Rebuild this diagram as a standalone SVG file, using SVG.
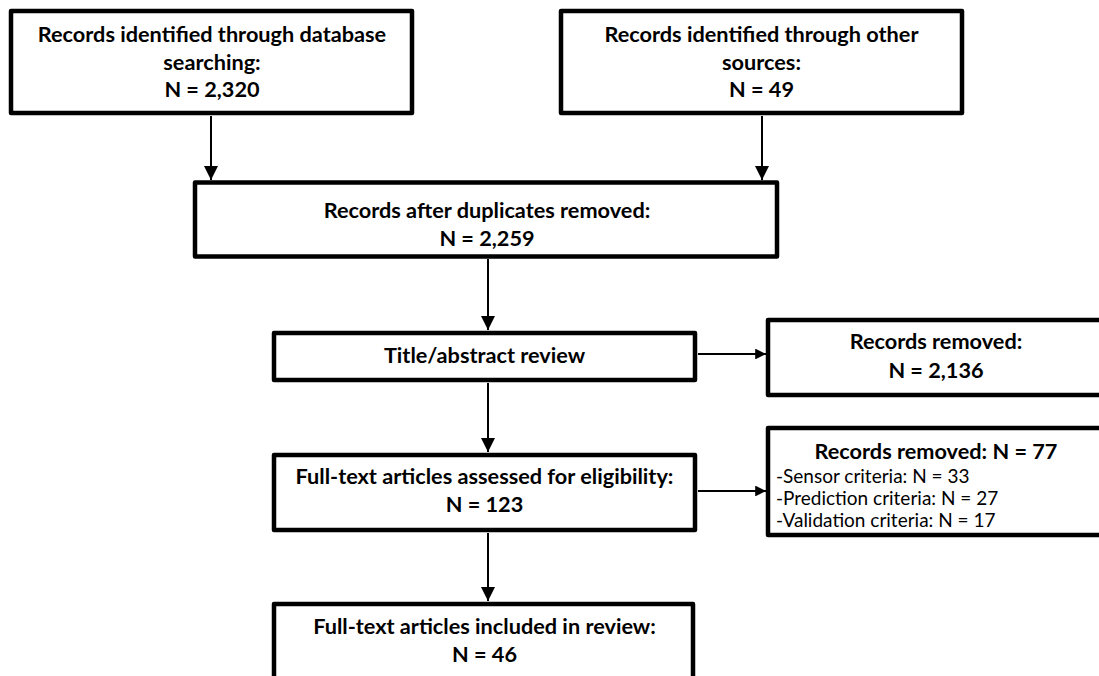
<svg xmlns="http://www.w3.org/2000/svg" width="1099" height="676" viewBox="0 0 1099 676">
<style>
.box{fill:#fff;stroke:#000;stroke-width:4.5;stroke-linejoin:round}
.t{font-family:Lato,"Liberation Sans",sans-serif;font-size:21.7px;font-weight:bold;fill:#000;text-anchor:middle}
.r{font-family:Lato,"Liberation Sans",sans-serif;font-size:19px;fill:#000}
.c{stroke:#000;stroke-width:2;fill:none}
.h{stroke:#000;stroke-width:1.8;fill:none}
</style>
<defs>
<marker id="ah" viewBox="0 0 10 10" refX="10" refY="5" markerWidth="7" markerHeight="7" markerUnits="strokeWidth" orient="auto">
<path d="M0,0 L10,5 L0,10 z" fill="#000"/>
</marker>
<marker id="ahs" viewBox="0 0 10 10" refX="10" refY="5" markerWidth="6" markerHeight="6" markerUnits="strokeWidth" orient="auto">
<path d="M0,0 L10,5 L0,10 z" fill="#000"/>
</marker>
</defs>
<rect width="1099" height="676" fill="#fff"/>
<g id="connectors">
<line class="c" x1="211" y1="116" x2="211" y2="180" marker-end="url(#ah)"/>
<line class="c" x1="762" y1="116" x2="762" y2="180" marker-end="url(#ah)"/>
<line class="c" x1="488" y1="259" x2="488" y2="330" marker-end="url(#ah)"/>
<line class="h" x1="698" y1="354" x2="766" y2="354" marker-end="url(#ahs)"/>
<line class="c" x1="488" y1="383" x2="488" y2="452" marker-end="url(#ah)"/>
<line class="h" x1="698" y1="491" x2="766" y2="491" marker-end="url(#ahs)"/>
<line class="c" x1="488" y1="533" x2="488" y2="601" marker-end="url(#ah)"/>
</g>
<g id="n1">
<rect class="box" x="11" y="11" width="401" height="102"/>
<text class="t" x="212" y="42">Records identified through database</text>
<text class="t" x="212" y="69.5">searching:</text>
<text class="t" x="212" y="97">N = 2,320</text>
</g>
<g id="n2">
<rect class="box" x="561" y="11" width="401" height="102"/>
<text class="t" x="761.5" y="42">Records identified through other</text>
<text class="t" x="761.5" y="69.5">sources:</text>
<text class="t" x="761.5" y="97">N = 49</text>
</g>
<g id="n3">
<rect class="box" x="195" y="182.5" width="582" height="74"/>
<text class="t" x="487" y="218">Records after duplicates removed:</text>
<text class="t" x="487" y="246">N = 2,259</text>
</g>
<g id="n4">
<rect class="box" x="274" y="333" width="421" height="47"/>
<text class="t" x="484.5" y="363">Title/abstract review</text>
</g>
<g id="n5">
<rect class="box" x="768" y="320" width="340" height="75"/>
<text class="t" x="936" y="349">Records removed:</text>
<text class="t" x="936" y="378">N = 2,136</text>
</g>
<g id="n6">
<rect class="box" x="274" y="455" width="421" height="75"/>
<text class="t" x="484.5" y="484">Full-text articles assessed for eligibility:</text>
<text class="t" x="484.5" y="512">N = 123</text>
</g>
<g id="n7">
<rect class="box" x="768" y="428" width="340" height="107"/>
<text class="t" x="936" y="459">Records removed: N = 77</text>
<text class="r" x="776" y="483">-Sensor criteria: N = 33</text>
<text class="r" x="776" y="505">-Prediction criteria: N = 27</text>
<text class="r" x="776" y="527">-Validation criteria: N = 17</text>
</g>
<g id="n8">
<rect class="box" x="274" y="604" width="419" height="90"/>
<text class="t" x="484.5" y="634">Full-text articles included in review:</text>
<text class="t" x="484.5" y="662">N = 46</text>
</g>
</svg>
